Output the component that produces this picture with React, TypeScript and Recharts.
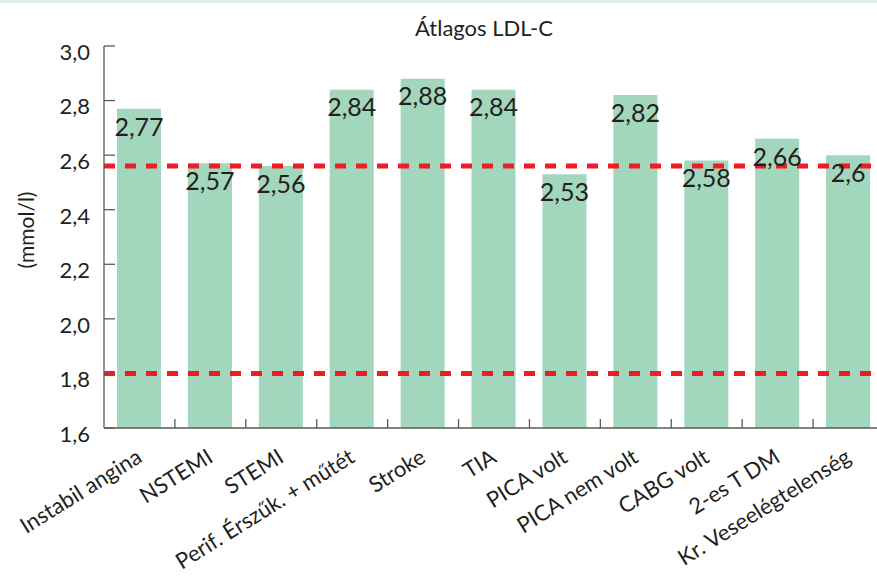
import { BarChart, Bar, XAxis, YAxis, LabelList, ReferenceLine } from "recharts";

const categories = [
  "Instabil angina",
  "NSTEMI",
  "STEMI",
  "Perif. Érszűk. + műtét",
  "Stroke",
  "TIA",
  "PICA volt",
  "PICA nem volt",
  "CABG volt",
  "2-es T DM",
  "Kr. Veseelégtelenség",
];
const ldlValues = [2.77, 2.57, 2.56, 2.84, 2.88, 2.84, 2.53, 2.82, 2.58, 2.66, 2.6];
const yTicks = [1.6, 1.8, 2.0, 2.2, 2.4, 2.6, 2.8, 3.0];
const targetLines = [2.56, 1.8];

const FONT = "Lato, 'Open Sans', sans-serif";
const TEXT = "#231f20";
const AXIS = "#5a5a5a";

// plot geometry (chart is wider than the page and gets clipped on the right)
const CHART_W = 900;
const CHART_H = 579;
const Y_AXIS_W = 104;
const RIGHT = 16;
const BAND = (CHART_W - Y_AXIS_W - RIGHT) / categories.length;

const comma = (v: number | string) => String(v).replace(".", ",");

const data = categories.map((name, i) => ({ name, value: ldlValues[i] }));

function XTick({ x, y, payload, index }: any) {
  const tx = x + 4;
  const ty = y + 33;
  return (
    <g>
      {index < categories.length - 1 && (
        <line x1={x + BAND / 2} x2={x + BAND / 2} y1={y} y2={y - 9} stroke={AXIS} strokeWidth={1.3} />
      )}
      <text
        x={tx}
        y={ty}
        textAnchor="end"
        transform={`rotate(-32 ${tx} ${ty})`}
        fontFamily={FONT}
        fontSize={22}
        fill={TEXT}
      >
        {payload.value}
      </text>
    </g>
  );
}

function YTick({ x, y, payload }: any) {
  return (
    <g>
      <line x1={x} x2={x + 11} y1={y} y2={y} stroke={AXIS} strokeWidth={1.3} />
      <text
        x={x - 14}
        y={y + 6}
        dy="0.36em"
        textAnchor="end"
        fontFamily={FONT}
        fontSize={22}
        fill={TEXT}
      >
        {comma(payload.value.toFixed(1))}
      </text>
    </g>
  );
}

export default function App() {
  return (
    <div
      style={{
        position: "absolute",
        left: 0,
        top: 0,
        width: 877,
        height: 579,
        overflow: "hidden",
        background: "#fff",
      }}
    >
      <div style={{ position: "absolute", left: 0, top: 0, width: 877, height: 3, background: "#dff0e7" }} />
      <div
        style={{
          position: "absolute",
          left: 384,
          top: 17,
          width: 200,
          textAlign: "center",
          fontFamily: FONT,
          fontSize: 22,
          lineHeight: "22px",
          color: TEXT,
        }}
      >
        Átlagos LDL-C
      </div>
      <BarChart
        width={CHART_W}
        height={CHART_H}
        data={data}
        margin={{ top: 46, right: RIGHT, left: 0, bottom: 0 }}
        barCategoryGap={0}
      >
        <XAxis
          dataKey="name"
          interval={0}
          height={151}
          tickSize={0}
          tickMargin={0}
          tickLine={false}
          axisLine={{ stroke: AXIS, strokeWidth: 1.3 }}
          tick={<XTick />}
        />
        <YAxis
          type="number"
          domain={[1.6, 3.0]}
          ticks={yTicks}
          width={Y_AXIS_W}
          tickSize={0}
          tickMargin={0}
          tickLine={false}
          axisLine={{ stroke: AXIS, strokeWidth: 1.3 }}
          tick={<YTick />}
          label={{
            content: () => (
              <text
                x={25}
                y={230}
                transform="rotate(-90 25 230)"
                textAnchor="middle"
                dominantBaseline="central"
                fontFamily={FONT}
                fontSize={21}
                fill={TEXT}
              >
                (mmol/l)
              </text>
            ),
          }}
        />
        <Bar dataKey="value" fill="#a2d6bd" barSize={44} isAnimationActive={false}>
          <LabelList
            dataKey="value"
            position="insideTop"
            offset={9}
            formatter={(v: any) => comma(v)}
            fontFamily={FONT}
            fontSize={25}
            fill={TEXT}
          />
        </Bar>
        {targetLines.map((v) => (
          <ReferenceLine
            key={v}
            y={v}
            stroke="#ee1c25"
            strokeWidth={5}
            strokeDasharray="11 10"
          />
        ))}
      </BarChart>
    </div>
  );
}
